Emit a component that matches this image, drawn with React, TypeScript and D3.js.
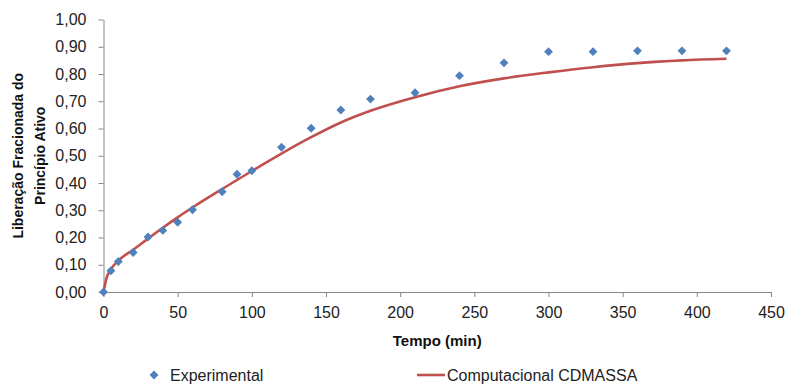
import React, { useEffect, useRef } from 'react';
import * as d3 from 'd3';

// Experimental release points (time in min, fraction released)
const expTime = [0, 5, 10, 20, 30, 40, 50, 60, 80, 90, 100, 120, 140, 160, 180, 210, 240, 270, 300, 330, 360, 390, 420];
const expValue = [0, 0.078, 0.112, 0.145, 0.202, 0.226, 0.256, 0.302, 0.368, 0.432, 0.445, 0.531, 0.601, 0.668, 0.708, 0.731, 0.794, 0.841, 0.882, 0.882, 0.885, 0.885, 0.885];

// CDMASSA simulated curve
const simTime = [0, 2, 5, 10, 20, 30, 40, 50, 60, 80, 100, 120, 140, 160, 180, 210, 240, 270, 300, 330, 360, 390, 420];
const simValue = [0, 0.05, 0.083, 0.115, 0.155, 0.196, 0.236, 0.274, 0.31, 0.378, 0.444, 0.508, 0.568, 0.622, 0.665, 0.715, 0.755, 0.784, 0.806, 0.825, 0.84, 0.85, 0.856];

const xTicks = [0, 50, 100, 150, 200, 250, 300, 350, 400, 450];
const yTicks = [0, 0.1, 0.2, 0.3, 0.4, 0.5, 0.6, 0.7, 0.8, 0.9, 1.0];

const seriesNames = ['Experimental', 'Computacional CDMASSA'];

const ReleaseChart = () => {
  const ref = useRef<SVGSVGElement>(null);

  useEffect(() => {
    const width = 790;
    const height = 384;
    const margin = { top: 19.5, right: 19, bottom: 92, left: 103.5 };
    const font = '"Liberation Sans", Arial, sans-serif';
    const axisColor = '#868686';
    const blue = '#4F81BD';
    const red = '#C0504D';

    const svg = d3.select(ref.current)
      .attr('width', width)
      .attr('height', height);

    svg.selectAll('*').remove();

    const x = d3.scaleLinear().domain([0, 450]).range([margin.left, width - margin.right]);
    const y = d3.scaleLinear().domain([0, 1]).range([height - margin.bottom, margin.top]);

    const fmt = (v: number) => v.toFixed(2).replace('.', ',');

    // y axis
    const yAxis = svg.append('g')
      .attr('transform', `translate(${margin.left},0)`)
      .call(d3.axisLeft(y).tickValues(yTicks).tickFormat(fmt as any).tickSize(5).tickPadding(12).tickSizeOuter(0));
    yAxis.select('.domain').attr('stroke', axisColor);
    yAxis.selectAll('line').attr('stroke', axisColor);
    yAxis.selectAll('text').style('font-family', font).style('font-size', '16px').attr('fill', '#222');

    // x axis
    const xAxis = svg.append('g')
      .attr('transform', `translate(0,${height - margin.bottom})`)
      .call(d3.axisBottom(x).tickValues(xTicks).tickFormat(d3.format('d') as any).tickSize(5).tickPadding(10).tickSizeOuter(0));
    xAxis.select('.domain').attr('stroke', axisColor);
    xAxis.selectAll('line').attr('stroke', axisColor);
    xAxis.selectAll('text').style('font-family', font).style('font-size', '16px').attr('fill', '#222');

    // simulated curve
    const line = d3.line<number>()
      .x((d, i) => x(simTime[i]))
      .y(d => y(d))
      .curve(d3.curveMonotoneX);

    svg.append('path')
      .datum(simValue)
      .attr('d', line)
      .attr('fill', 'none')
      .attr('stroke', red)
      .attr('stroke-width', 2.6);

    // experimental diamonds
    const diamond = d3.symbol().type(d3.symbolDiamond2).size(50);
    svg.append('g')
      .selectAll('path')
      .data(expValue)
      .enter()
      .append('path')
      .attr('d', diamond)
      .attr('transform', (d, i) => `translate(${x(expTime[i])},${y(d)})`)
      .attr('fill', blue);

    // axis titles
    svg.append('text')
      .attr('x', (x(0) + x(450)) / 2)
      .attr('y', 346)
      .attr('text-anchor', 'middle')
      .style('font-family', font)
      .style('font-size', '15px')
      .style('font-weight', 'bold')
      .attr('fill', '#111')
      .text('Tempo (min)');

    const yTitle = svg.append('text')
      .attr('transform', `translate(0,${(y(0) + y(1)) / 2}) rotate(-90)`)
      .attr('text-anchor', 'middle')
      .style('font-family', font)
      .style('font-size', '14px')
      .style('font-weight', 'bold')
      .attr('fill', '#111');
    yTitle.append('tspan').attr('x', 0).attr('y', 23).text('Liberação Fracionada do');
    yTitle.append('tspan').attr('x', 0).attr('y', 45).text('Princípio Ativo');

    // legend
    const legendY = 375;
    svg.append('path')
      .attr('d', diamond)
      .attr('transform', `translate(154,${legendY})`)
      .attr('fill', blue);
    svg.append('text')
      .attr('x', 170)
      .attr('y', legendY + 6)
      .style('font-family', font)
      .style('font-size', '16px')
      .attr('fill', '#222')
      .text(seriesNames[0]);

    svg.append('line')
      .attr('x1', 417).attr('x2', 445)
      .attr('y1', legendY).attr('y2', legendY)
      .attr('stroke', red)
      .attr('stroke-width', 2.6);
    svg.append('text')
      .attr('x', 447)
      .attr('y', legendY + 6)
      .style('font-family', font)
      .style('font-size', '16px')
      .attr('fill', '#222')
      .text(seriesNames[1]);
  }, []);

  return <svg ref={ref} style={{ position: 'absolute', left: 0, top: 0, background: '#fff' }} />;
};

export default function App() {
  return <ReleaseChart />;
}
